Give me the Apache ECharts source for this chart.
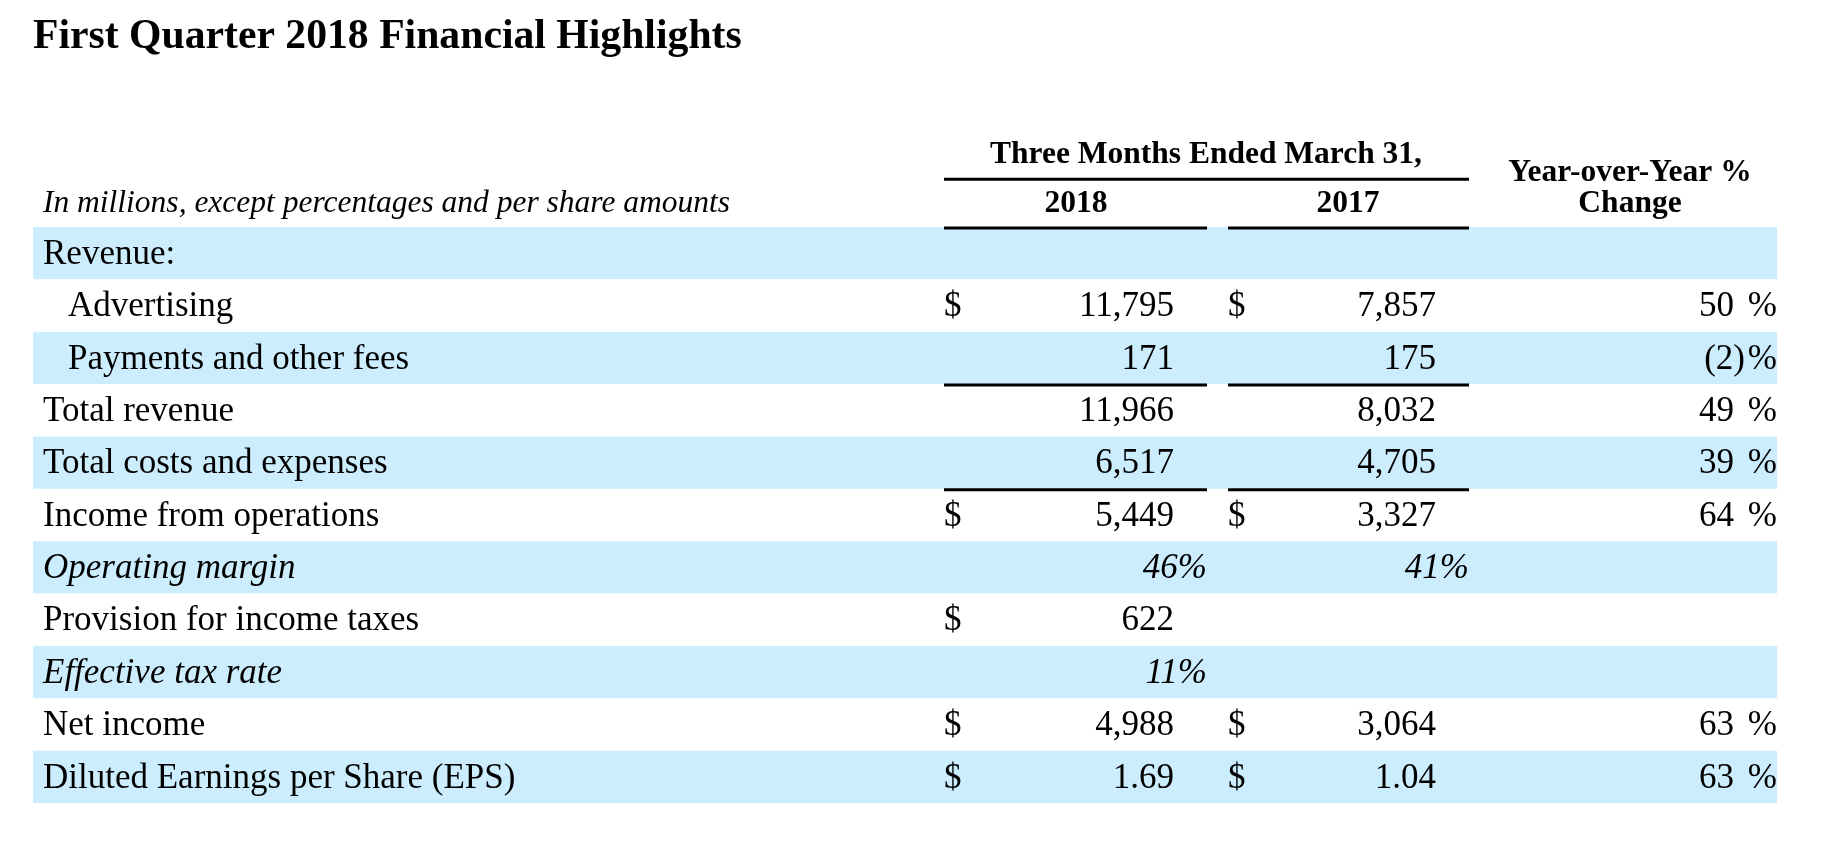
<!DOCTYPE html>
<html>
<head>
<meta charset="utf-8">
<script src="https://cdn.jsdelivr.net/npm/echarts@6/dist/echarts.min.js"></script>
<style>
  html, body { margin: 0; padding: 0; background: #ffffff; }
  #chart { width: 1829px; height: 859px; }
</style>
</head>
<body>
<div id="chart"></div>
<script>
// ---------- data ----------
const titleText = 'First Quarter 2018 Financial Highlights';
const unitNote = 'In millions, except percentages and per share amounts';
const periodHeader = 'Three Months Ended March 31,';
const yearLabels = ['2018', '2017'];
const changeHeader = ['Year-over-Year %', 'Change'];

const rowLabels = [
  'Revenue:',
  'Advertising',
  'Payments and other fees',
  'Total revenue',
  'Total costs and expenses',
  'Income from operations',
  'Operating margin',
  'Provision for income taxes',
  'Effective tax rate',
  'Net income',
  'Diluted Earnings per Share (EPS)'
];
const values2018 = [null, 11795, 171, 11966, 6517, 5449, 46, 622, 11, 4988, 1.69];
const values2017 = [null, 7857, 175, 8032, 4705, 3327, 41, null, null, 3064, 1.04];
const yoyChange  = [null, 50, -2, 49, 39, 64, null, null, null, 63, 63];
const dollar2018 = [false, true, false, false, false, true, false, true, false, true, true];
const dollar2017 = [false, true, false, false, false, true, false, false, false, true, true];
const rowKind    = ['group', 'sub', 'sub', 'item', 'item', 'item', 'ratio', 'item', 'ratio', 'item', 'eps'];
const ruleAbove  = [true, false, false, true, false, true, false, false, false, false, false];

// ---------- layout & style (not data) ----------
const L = {
  tableLeft: 33, tableRight: 1777,
  labelX: 43, indentX: 68,
  dollar18: 944, num18: 1174, pct18: 1207,
  dollar17: 1228, num17: 1436, pct17: 1469,
  yoyNum: 1734, yoyNeg: 1745, yoyPct: 1777,
  rule18: [944, 1207], rule17: [1228, 1469],
  textDy: 1.5
};
const BAND = '#ccedfd';
const INK = '#000000';
const FAMILY = '"Liberation Serif", "Times New Roman", serif';
const BODY = '35px ' + FAMILY;
const BODY_I = 'italic 35px ' + FAMILY;
const HEAD = 'bold 31.5px ' + FAMILY;

function fmtNum(v, kind) {
  if (v === null || v === undefined) return '';
  if (kind === 'ratio') return v + '%';
  if (kind === 'eps') return v.toFixed(2);
  return v.toLocaleString('en-US');
}

function txt(x, y, text, font, align) {
  return {
    type: 'text',
    style: {
      x: x, y: y, text: text, font: font, fill: INK,
      align: align, textAlign: align,
      verticalAlign: 'middle', textVerticalAlign: 'middle'
    }
  };
}

function renderRow(params, api) {
  const i = api.value(1);
  const X = v => api.coord([v, i])[0];
  const yc = api.coord([L.tableLeft, i])[1];
  const h = api.size([0, 1])[1];
  const top = yc - h / 2;
  const ty = yc + L.textDy;
  const kind = rowKind[i];
  const children = [];
  if (i % 2 === 0) {
    children.push({
      type: 'rect',
      shape: { x: X(L.tableLeft), y: top, width: X(L.tableRight) - X(L.tableLeft), height: h },
      style: { fill: BAND }
    });
  }
  if (ruleAbove[i]) {
    [L.rule18, L.rule17].forEach(r => {
      children.push({
        type: 'rect',
        shape: { x: X(r[0]), y: top - 0.5, width: X(r[1]) - X(r[0]), height: 3 },
        style: { fill: INK }
      });
    });
  }
  const italic = kind === 'ratio';
  const lx = kind === 'sub' ? L.indentX : L.labelX;
  children.push(txt(X(lx), ty, rowLabels[i], italic ? BODY_I : BODY, 'left'));

  if (dollar2018[i]) children.push(txt(X(L.dollar18), ty, '$', BODY, 'left'));
  if (dollar2017[i]) children.push(txt(X(L.dollar17), ty, '$', BODY, 'left'));

  if (values2018[i] !== null) {
    children.push(txt(X(italic ? L.pct18 : L.num18), ty, fmtNum(values2018[i], kind),
      italic ? BODY_I : BODY, 'right'));
  }
  if (values2017[i] !== null) {
    children.push(txt(X(italic ? L.pct17 : L.num17), ty, fmtNum(values2017[i], kind),
      italic ? BODY_I : BODY, 'right'));
  }
  const c = yoyChange[i];
  if (c !== null) {
    const s = c < 0 ? '(' + Math.abs(c) + ')' : String(c);
    children.push(txt(X(c < 0 ? L.yoyNeg : L.yoyNum), ty, s, BODY, 'right'));
    children.push(txt(X(L.yoyPct), ty, '%', BODY, 'right'));
  }
  return { type: 'group', children: children };
}

const chart = echarts.init(document.getElementById('chart'), null, { renderer: 'canvas' });

function headText(x, y, text, font, align) {
  return {
    type: 'text', silent: true,
    style: {
      x: x, y: y, text: text, font: font, fill: INK,
      align: align, textAlign: align,
      verticalAlign: 'middle', textVerticalAlign: 'middle'
    }
  };
}

const option = {
  backgroundColor: '#ffffff',
  animation: false,
  grid: { left: 33, right: 52, top: 227, bottom: 56, containLabel: false },
  xAxis: { type: 'value', min: L.tableLeft, max: L.tableRight, show: false },
  yAxis: { type: 'category', data: rowLabels, inverse: true, show: false },
  graphic: [
    headText(33, 37, titleText, 'bold 41.7px ' + FAMILY, 'left'),
    headText(43, 204, unitNote, 'italic 31.5px ' + FAMILY, 'left'),
    headText(1206, 155, periodHeader, HEAD, 'center'),
    { type: 'rect', silent: true, shape: { x: 944, y: 177.7, width: 525, height: 3 }, style: { fill: INK } },
    headText(1076, 204, yearLabels[0], HEAD, 'center'),
    headText(1348, 204, yearLabels[1], HEAD, 'center'),
    headText(1630, 172.5, changeHeader[0], HEAD, 'center'),
    headText(1630, 204, changeHeader[1], HEAD, 'center')
  ],
  series: [{
    type: 'custom',
    silent: true,
    clip: false,
    encode: { x: 0, y: 1 },
    data: rowLabels.map((_, i) => [L.tableLeft, i]),
    renderItem: renderRow
  }]
};
chart.setOption(option);
</script>
</body>
</html>
